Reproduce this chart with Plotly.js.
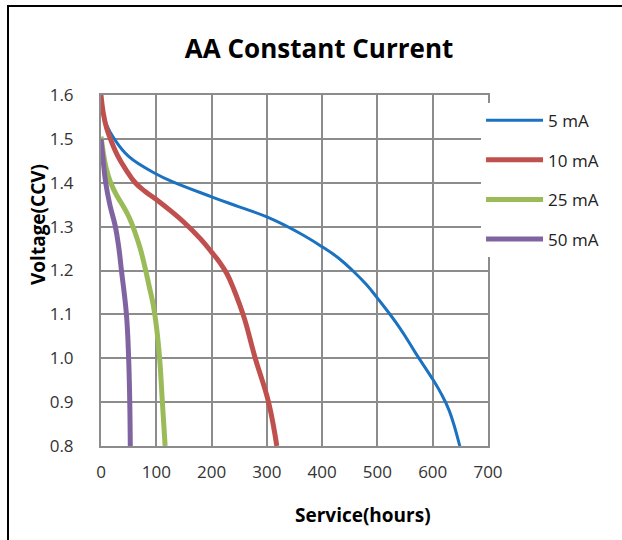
<!DOCTYPE html>
<html>
<head>
<meta charset="utf-8">
<script src="https://cdn.plot.ly/plotly-3.0.1.min.js"></script>
<style>
  html, body { margin: 0; padding: 0; background: #fff; }
  #wrap { position: relative; width: 622px; height: 540px; }
  #chart { width: 622px; height: 540px; }
  #frame { position: absolute; left: 7px; top: 5px; width: 630px; height: 560px;
           border-left: 2px solid #000; border-top: 2px solid #000; pointer-events: none; }
</style>
</head>
<body>
<div id="wrap">
  <div id="chart"></div>
  <div id="frame"></div>
</div>
<script>
// ---- data ----
const seriesNames = ["5 mA", "10 mA", "25 mA", "50 mA"];

const hours5  = [0, 3, 9, 24, 50, 100, 130, 200, 250, 300, 358, 400, 430, 455, 480, 500, 540, 570, 600, 615, 630, 649];
const volts5  = [1.6, 1.56, 1.535, 1.5, 1.46, 1.42, 1.402, 1.368, 1.345, 1.322, 1.286, 1.254, 1.228, 1.2, 1.168, 1.137, 1.07, 1.01, 0.952, 0.92, 0.88, 0.8];

const hours10 = [0, 4, 10, 17, 30, 45, 62, 80, 100, 125, 150, 180, 200, 215, 228, 240, 250, 260, 279, 303, 318];
const volts10 = [1.6, 1.56, 1.525, 1.5, 1.462, 1.43, 1.4, 1.38, 1.362, 1.337, 1.31, 1.272, 1.242, 1.218, 1.192, 1.158, 1.125, 1.088, 1.0, 0.9, 0.8];

const hours25 = [0, 4, 9, 17.5, 28, 40, 52, 62, 71, 79, 87, 94, 100, 106, 111, 116];
const volts25 = [1.505, 1.47, 1.435, 1.4, 1.372, 1.347, 1.318, 1.285, 1.25, 1.21, 1.165, 1.125, 1.075, 1.0, 0.9, 0.8];

const hours50 = [0, 4, 8.5, 16, 26, 32, 37, 46, 50, 52, 53];
const volts50 = [1.5, 1.45, 1.4, 1.35, 1.3, 1.254, 1.2, 1.1, 1.0, 0.9, 0.8];

const xTicks = [0, 100, 200, 300, 400, 500, 600, 700];
const yTicks = [0.8, 0.9, 1.0, 1.1, 1.2, 1.3, 1.4, 1.5, 1.6];

// ---- styling ----
const colors = ["#1a72c0", "#c0504d", "#9bbb59", "#8064a2"];
const widths = [3, 5, 5, 5];
const xs = [hours5, hours10, hours25, hours50];
const ys = [volts5, volts10, volts25, volts50];

const traces = seriesNames.map((name, i) => ({
  type: "scatter",
  mode: "lines",
  name: name,
  legendgroup: "g" + i,
  x: xs[i],
  y: ys[i],
  line: { color: colors[i], width: widths[i], shape: "spline", smoothing: 1.2 },
  hoverinfo: "x+y+name"
}));

const gridColor = "#8c8c8c";
const fontFamily = "'Open Sans', 'Noto Sans', sans-serif";

const layout = {
  width: 622,
  height: 540,
  margin: { l: 101, r: 134, t: 95, b: 94 },
  paper_bgcolor: "#fff",
  plot_bgcolor: "#fff",
  font: { family: fontFamily, color: "#222" },
  title: {
    text: "<b>AA Constant Current</b>",
    font: { family: fontFamily, size: 26, color: "#000" },
    x: 0.513, xanchor: "center",
    y: 0.909, yanchor: "middle"
  },
  xaxis: {
    range: [0, 700],
    tickvals: xTicks,
    ticktext: xTicks.map(String),
    showgrid: true, gridcolor: gridColor, gridwidth: 2,
    showline: true, linecolor: gridColor, linewidth: 2, mirror: true,
    zeroline: false,
    ticks: "",
    ticklabelstandoff: 10,
    tickfont: { size: 17, color: "#333" },
    fixedrange: true
  },
  yaxis: {
    range: [0.8, 1.6],
    tickvals: yTicks,
    ticktext: yTicks.map(v => v.toFixed(1)),
    showgrid: true, gridcolor: gridColor, gridwidth: 2,
    showline: true, linecolor: gridColor, linewidth: 2, mirror: true,
    zeroline: false,
    ticks: "",
    ticklabelstandoff: 22,
    tickfont: { size: 17, color: "#333" },
    fixedrange: true
  },
  legend: {
    x: 0.982, xanchor: "left",
    y: 0.978, yanchor: "top",
    bgcolor: "#fff",
    borderwidth: 0,
    font: { family: fontFamily, size: 17, color: "#222" },
    tracegroupgap: 14.5,
    itemwidth: 57
  },
  showlegend: true,
  annotations: [
    {
      text: "<b>Voltage(CCV)</b>",
      xref: "paper", yref: "paper",
      x: (38 - 101) / 387, y: 1 - (224 - 95) / 351,
      xanchor: "center", yanchor: "middle",
      textangle: -90, showarrow: false,
      font: { family: fontFamily, size: 19, color: "#000" }
    },
    {
      text: "<b>Service(hours)</b>",
      xref: "paper", yref: "paper",
      x: (363 - 101) / 387, y: 1 - (515 - 95) / 351,
      xanchor: "center", yanchor: "middle",
      showarrow: false,
      font: { family: fontFamily, size: 19, color: "#000" }
    }
  ]
};

Plotly.newPlot("chart", traces, layout, { displayModeBar: false, staticPlot: false });
</script>
</body>
</html>
